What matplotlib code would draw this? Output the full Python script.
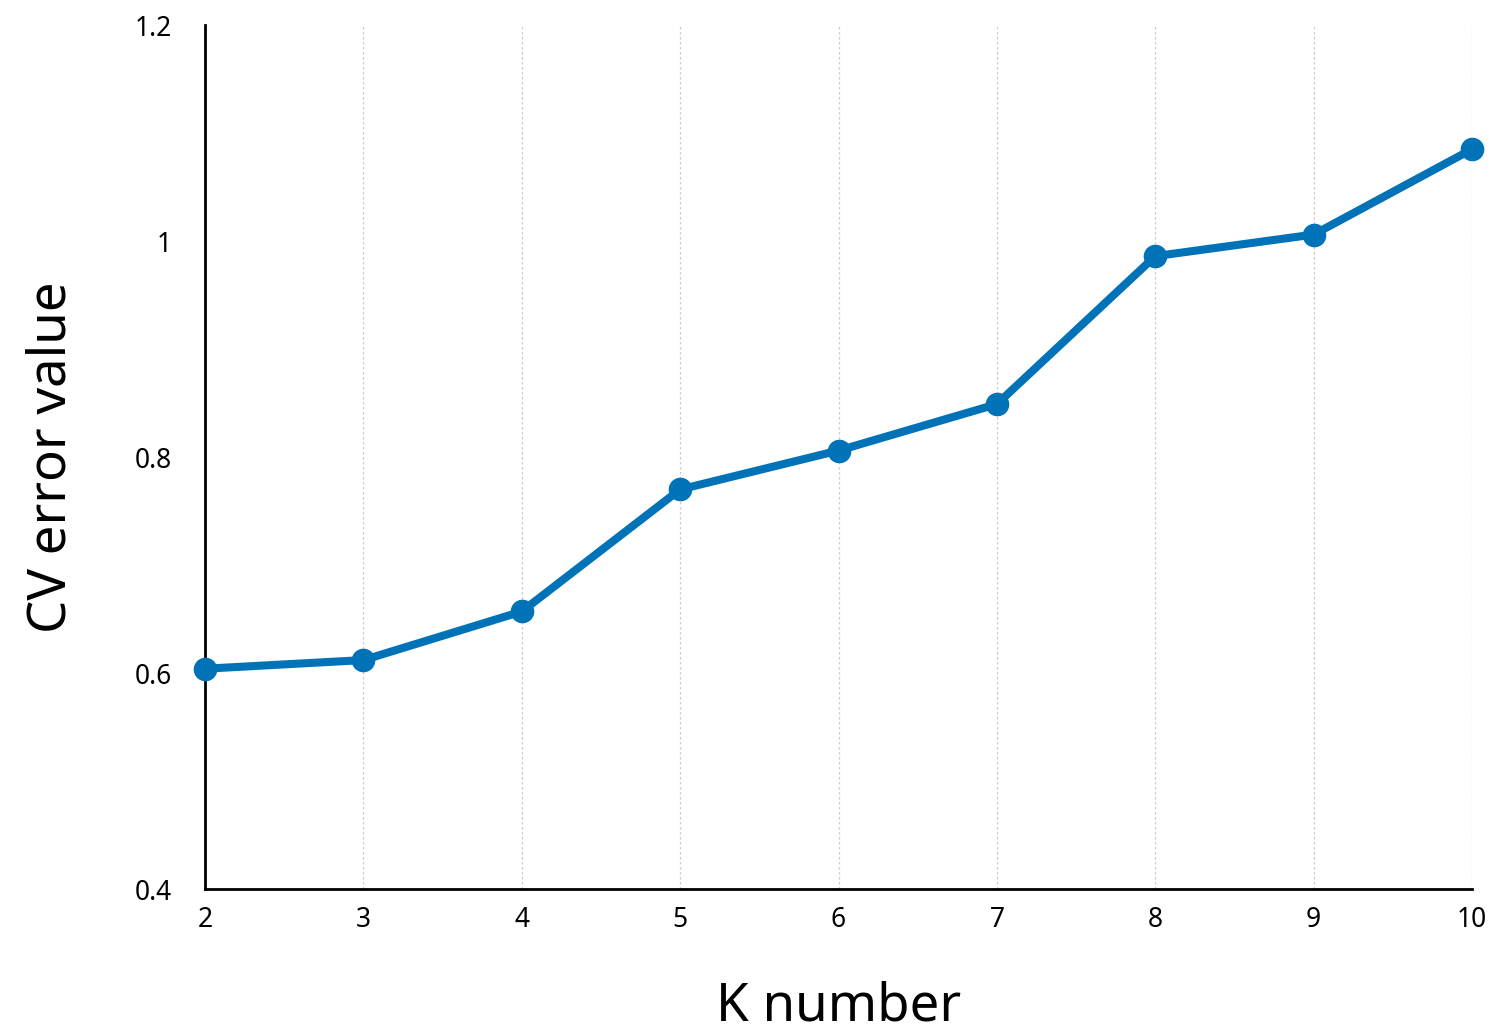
import numpy as np
import matplotlib
matplotlib.use("Agg")
import matplotlib.pyplot as plt
from matplotlib.ticker import FuncFormatter

# K values and cross-validation error
k_values = [2, 3, 4, 5, 6, 7, 8, 9, 10]
cv_error = [0.604, 0.612, 0.657, 0.770, 0.806, 0.849, 0.986, 1.006, 1.085]
y_ticks = [0.4, 0.6, 0.8, 1.0, 1.2]

plt.rcParams['font.family'] = ['Noto Sans', 'DejaVu Sans']

fig = plt.figure(figsize=(14.99, 10.34), dpi=100)
ax = fig.add_axes([0.1368, 0.1402, 0.8452, 0.8356])

ax.plot(k_values, cv_error, color="#0072b8", linewidth=5.8, marker="o",
        markersize=16, zorder=3, clip_on=False)

ax.set_xlim(2, 10)
ax.set_ylim(0.4, 1.2)
ax.set_xticks(k_values)
ax.set_yticks(y_ticks)
ax.yaxis.set_major_formatter(FuncFormatter(lambda v, p: "%g" % v))

# vertical dotted grid only
ax.grid(axis="x", color="#cccccc", linestyle=(0, (2, 2)), linewidth=0.9)
ax.grid(axis="y", visible=False)
ax.set_axisbelow(True)

for s in ["top", "right"]:
    ax.spines[s].set_visible(False)
for s in ["left", "bottom"]:
    ax.spines[s].set_linewidth(2)
    ax.spines[s].set_color("black")

ax.tick_params(axis="both", length=0, labelsize=19)
ax.tick_params(axis="y", pad=24)
ax.tick_params(axis="x", pad=12)

ax.set_xlabel("K number", fontsize=38, labelpad=34)
ax.set_ylabel("CV error value", fontsize=38, labelpad=40)

fig.savefig("out.png", dpi=100)
